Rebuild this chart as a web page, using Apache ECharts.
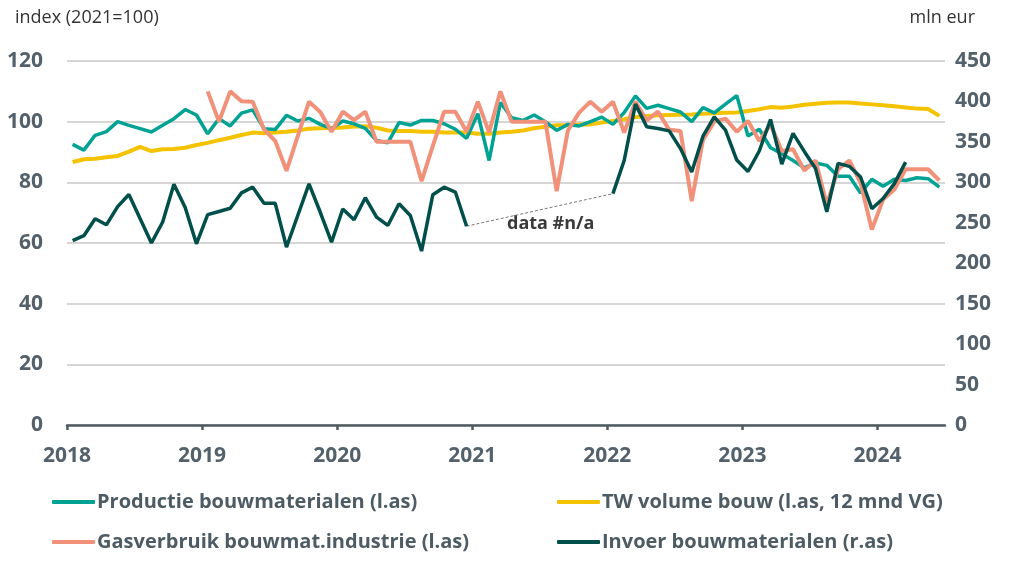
<!DOCTYPE html>
<html>

<head>
    <meta charset="UTF-8">
    <script src="https://cdn.jsdelivr.net/npm/echarts@6.0.0/dist/echarts.min.js"></script>
    <style>
        html, body { margin: 0; padding: 0; background: #fff; }
    </style>
</head>

<body>
    <div id="main" style="width: 1010px; height: 564px;"></div>
    <script>
        // monthly data, Jan 2018 .. Jun 2024
        const startYear = 2018;
        const yearLabels = [2018, 2019, 2020, 2021, 2022, 2023, 2024];
        const leftTicks = [0, 20, 40, 60, 80, 100, 120];
        const rightTicks = [0, 50, 100, 150, 200, 250, 300, 350, 400, 450];

        const productie = [
            92.5, 90.6, 95.5, 96.7, 100, 98.8, 97.7, 96.6, 98.8, 101, 104, 102.2,
            96, 101, 98.6, 102.8, 103.9, 97.7, 97.4, 102.1, 100.2, 101.1, 99.1, 97.7,
            100.2, 99.3, 97.8, 93.8, 93, 99.7, 98.9, 100.4, 100.4, 99.3, 97.5, 94.5,
            102.6, 87.2, 106.3, 101.3, 100.4, 102.2, 100, 97.1, 99.1, 98.6, 100, 101.5,
            99.1, 103, 108.5, 104.4, 105.4, 104.3, 103.2, 100, 104.6, 102.9, 105.8, 108.6,
            95.3, 97.5, 91.4, 89.4, 87.2, 84.8, 86.4, 85.6, 82, 82, 76.5, 81,
            78.7, 81, 80.6, 81.5, 81.2, 78.4
        ];
        const twVolume = [
            86.7, 87.6, 87.8, 88.3, 88.7, 90.1, 91.7, 90.3, 90.9, 91, 91.4, 92.3,
            93, 93.9, 94.7, 95.6, 96.4, 96.2, 96.4, 96.7, 97.1, 97.7, 97.8, 97.9,
            98.1, 98.4, 98.5, 98, 97.1, 96.9, 96.9, 96.7, 96.7, 96.4, 96.4, 96.4,
            96, 96, 96.4, 96.7, 97.1, 97.8, 98.3, 98.8, 98.8, 99.1, 99.1, 99.7,
            100.2, 100.8, 101.5, 101.9, 102.1, 102.2, 102.3, 102.4, 102.6, 102.8, 102.9, 103,
            103.5, 104.1, 104.8, 104.6, 105, 105.6, 105.9, 106.2, 106.3, 106.3, 106, 105.7,
            105.4, 105.1, 104.7, 104.3, 104.2, 101.9
        ];
        const gasverbruik = [
            null, null, null, null, null, null, null, null, null, null, null, null,
            110, 100, 110, 106.7, 106.6, 97.5, 93.6, 83.8, 95.2, 106.6, 103.2, 96.7,
            103.3, 100.5, 103.3, 93.4, 93.4, 93.4, 93.4, 80.4, 92, 103.3, 103.3, 96.7,
            106.6, 96.4, 110, 100, 100, 100, 100, 77.1, 97.1, 103, 106.6, 103.3,
            106.6, 96.4, 106.6, 100.4, 103.3, 97.3, 96.9, 73.8, 94, 100, 101, 96.7,
            100.2, 93.6, 99.1, 90.3, 90.9, 83.9, 87.2, 72.7, 84.3, 87.2, 79.8, 64.4,
            74.3, 77.6, 84.3, 84.3, 84.3, 80.6
        ];
        const invoer = [
            228, 234, 255, 247.5, 270, 285, 255, 225, 251, 297.5, 269, 224,
            260, 264, 268, 287, 294, 274, 274, 220, 259, 298, 263, 226,
            267, 253.7, 281, 257, 246.7, 273.6, 259, 215, 284.7, 294, 288, 245.8,
            null, null, null, null, null, null, null, null, null, null, null, null,
            286, 327, 396.7, 368.6, 366.5, 363.6, 341.7, 312.8, 357, 381, 364.5, 327.5,
            313.4, 338.7, 377.7, 322.5, 360.5, 338.2, 317, 263.5, 323.5, 319.8, 306.6, 267.4,
            280, 298.4, 325, null, null, null
        ];

        const names = [
            'Productie bouwmaterialen (l.as)',
            'TW volume bouw (l.as, 12 mnd VG)',
            'Gasverbruik bouwmat.industrie (l.as)',
            'Invoer bouwmaterialen (r.as)'
        ];
        const colors = ['#00a393', '#f5c200', '#f2917a', '#004f4b'];

        // x = months since Jan 2018, point in the middle of its month
        function toPoints(arr) {
            return arr.map(function (v, i) { return [i + 0.5, v]; });
        }

        // gap in the import series, bridged by a thin dashed line
        var gapStart = -1, gapEnd = -1;
        for (var i = 1; i < invoer.length; i++) {
            if (invoer[i] === null && invoer[i - 1] !== null && gapStart < 0) gapStart = i - 1;
            if (invoer[i] !== null && invoer[i - 1] === null && gapStart >= 0 && gapEnd < 0) gapEnd = i;
        }
        var gapLine = [[gapStart + 0.5, invoer[gapStart]], [gapEnd + 0.5, invoer[gapEnd]]];

        const font = '"Open Sans", sans-serif';
        const axisColor = '#52616b';
        const yearTicks = yearLabels.map(function (y) { return (y - startYear) * 12; });

        const legendText = { fontFamily: font, fontWeight: 'bold', fontSize: 20, color: '#4c5b64', padding: [0, 0, 0, -3] };

        var myChart = echarts.init(document.getElementById('main'));
        var option = {
            animation: false,
            grid: { left: 67, right: 65, top: 61, bottom: 139 },
            graphic: [
                {
                    type: 'text', left: 15, top: 9,
                    style: { text: 'index (2021=100)', font: '18px ' + font, fill: '#333' }
                },
                {
                    type: 'text', right: 35, top: 9,
                    style: { text: 'mln eur', font: '18px ' + font, fill: '#333' }
                },
                {
                    type: 'text', left: 507, top: 215,
                    style: { text: 'data #n/a', font: 'bold 18px ' + font, fill: '#3a3a3a' }
                }
            ],
            legend: [
                {
                    data: [names[0], names[2]],
                    orient: 'vertical', left: 47, top: 487, itemGap: 20,
                    itemWidth: 43, itemHeight: 4, icon: 'roundRect',
                    textStyle: legendText
                },
                {
                    data: [names[1], names[3]],
                    orient: 'vertical', left: 552, top: 487, itemGap: 20,
                    itemWidth: 43, itemHeight: 4, icon: 'roundRect',
                    textStyle: legendText
                }
            ],
            xAxis: {
                type: 'value',
                min: 0,
                max: 78,
                interval: 12,
                splitLine: { show: false },
                axisLine: { show: true, lineStyle: { color: '#4f5b62', width: 2.5 } },
                axisTick: { show: true, length: 5, lineStyle: { color: '#4f5b62', width: 2.5 }, customValues: yearTicks },
                axisLabel: {
                    customValues: yearTicks,
                    formatter: function (v) { return String(startYear + v / 12); },
                    fontFamily: font, fontWeight: 'bold', fontSize: 21, color: axisColor, margin: 21
                }
            },
            yAxis: [
                {
                    type: 'value', min: 0, max: 120, interval: 20,
                    axisLine: { show: false }, axisTick: { show: false },
                    splitLine: { lineStyle: { color: '#d6d6d6', width: 2 } },
                    axisLabel: {
                        customValues: leftTicks,
                        fontFamily: font, fontWeight: 'bold', fontSize: 21, color: axisColor, margin: 24
                    }
                },
                {
                    type: 'value', min: 0, max: 450, interval: 50,
                    axisLine: { show: false }, axisTick: { show: false },
                    splitLine: { show: false },
                    axisLabel: {
                        customValues: rightTicks,
                        fontFamily: font, fontWeight: 'bold', fontSize: 21, color: axisColor, margin: 10
                    }
                }
            ],
            series: [
                {
                    name: names[0], type: 'line', yAxisIndex: 0, data: toPoints(productie),
                    symbol: 'none', color: colors[0], lineStyle: { width: 3.5 }, z: 3
                },
                {
                    name: names[1], type: 'line', yAxisIndex: 0, data: toPoints(twVolume),
                    symbol: 'none', color: colors[1], lineStyle: { width: 4 }, z: 2
                },
                {
                    name: names[2], type: 'line', yAxisIndex: 0, data: toPoints(gasverbruik),
                    symbol: 'none', color: colors[2], lineStyle: { width: 4 }, z: 4
                },
                {
                    name: names[3], type: 'line', yAxisIndex: 1, data: toPoints(invoer),
                    symbol: 'none', color: colors[3], lineStyle: { width: 3.5 }, z: 5
                },
                {
                    name: 'gap', type: 'line', yAxisIndex: 1, data: gapLine,
                    symbol: 'none', silent: true, z: 1,
                    lineStyle: { color: '#777', width: 1, type: [3, 2] }
                }
            ]
        };

        option && myChart.setOption(option);
    </script>
</body>

</html>
